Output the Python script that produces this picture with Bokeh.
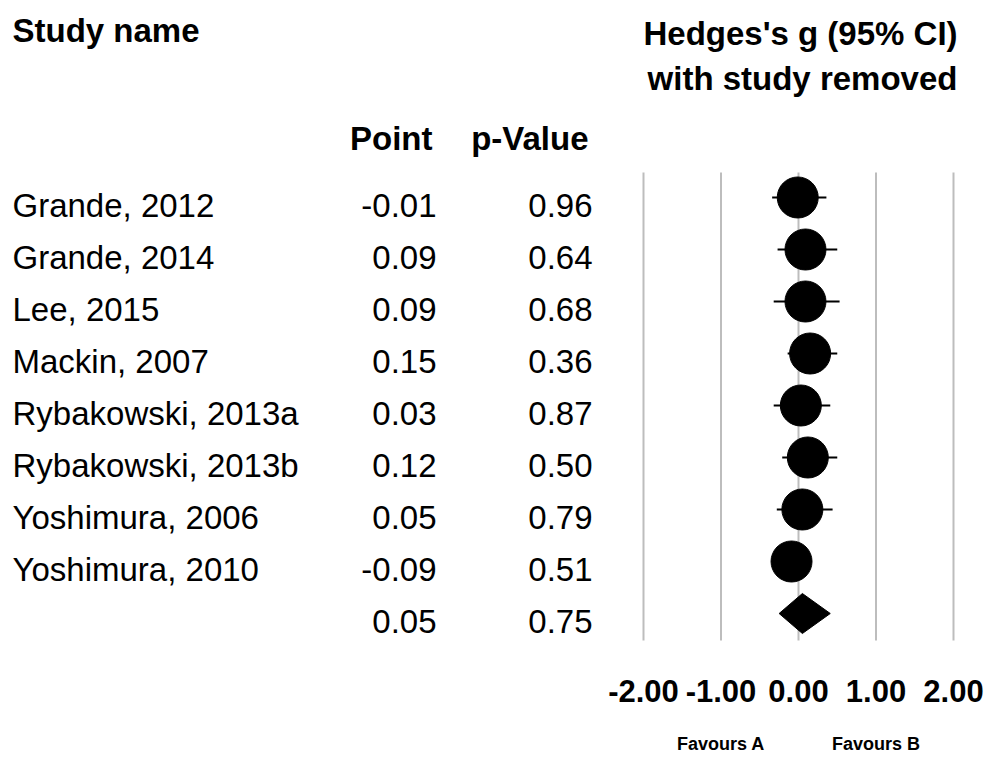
from bokeh.plotting import figure
from bokeh.models import Range1d, ColumnDataSource
from bokeh.core.properties import value
from bokeh.embed import file_html
from bokeh.resources import INLINE

# ---------------- data ----------------
studies = ["Grande, 2012", "Grande, 2014", "Lee, 2015", "Mackin, 2007",
           "Rybakowski, 2013a", "Rybakowski, 2013b", "Yoshimura, 2006", "Yoshimura, 2010"]
point = [-0.01, 0.09, 0.09, 0.15, 0.03, 0.12, 0.05, -0.09]
lower = [-0.34, -0.27, -0.32, -0.14, -0.32, -0.21, -0.28, -0.33]
upper = [0.36, 0.50, 0.53, 0.50, 0.41, 0.50, 0.44, 0.15]
p_value = [0.96, 0.64, 0.68, 0.36, 0.87, 0.50, 0.79, 0.51]
summary_point = 0.05
summary_lower = -0.25
summary_upper = 0.41
summary_p = 0.75
ticks = [-2, -1, 0, 1, 2]
tick_labels = ["-2.00", "-1.00", "0.00", "1.00", "2.00"]
favour_labels = ["Favours A", "Favours B"]
favour_pos = [-1, 1]

# ---------------- layout helpers (picture pixels -> data) ----------------
W, H = 984, 756
X0_PX, UNIT_PX = 643.0, 77.5      # picture x of -2, px per unit
ROW0_PX, ROW_PX = 197.0, 52.0     # picture y of first row, px per row
SHIFT = 0.36                      # baseline correction (em)

def px2x(px):
    return -2 + (px - X0_PX) / UNIT_PX

def py2y(py):
    return (ROW0_PX - py) / ROW_PX

def base(py, size):
    return py2y(py - SHIFT * size)

FONT = value("Liberation Sans")

p = figure(width=W, height=H, output_backend="svg", toolbar_location=None,
           x_range=Range1d(px2x(0), px2x(W)),
           y_range=Range1d(py2y(H), py2y(0)),
           min_border=0)
p.axis.visible = False
p.grid.visible = False
p.outline_line_color = None
p.background_fill_color = "white"
p.border_fill_color = "white"

n = len(studies)
rows = [-i for i in range(n)]
sum_row = -n

# vertical grid lines
p.segment(x0=ticks, x1=ticks, y0=[py2y(172)] * len(ticks), y1=[py2y(640)] * len(ticks),
          line_color="#bdbdbd", line_width=2)

# CI lines
p.segment(x0=lower, x1=upper, y0=rows, y1=rows, line_color="black", line_width=2)

# points
p.scatter(x=point, y=rows, size=41, marker="circle", fill_color="black", line_color="black")

# summary diamond
half_h = 20 / ROW_PX
p.patch(x=[summary_lower, summary_point, summary_upper, summary_point],
        y=[sum_row, sum_row + half_h, sum_row, sum_row - half_h],
        fill_color="black", line_color="black")

# table text
TS = 33
off = (20 - SHIFT * TS) / ROW_PX
src = ColumnDataSource(dict(
    y=[r - off for r in rows],
    name=studies,
    pt=["%.2f" % v for v in point],
    pv=["%.2f" % v for v in p_value],
))
common = dict(text_font=FONT, text_font_size="%dpx" % TS, text_baseline="alphabetic",
              text_color="black")
p.text(x=px2x(12), y="y", text="name", source=src, text_align="left", **common)
p.text(x=px2x(436), y="y", text="pt", source=src, text_align="right", **common)
p.text(x=px2x(592), y="y", text="pv", source=src, text_align="right", **common)

# summary row values
p.text(x=[px2x(436)], y=[sum_row - off], text=["%.2f" % summary_point], text_align="right", **common)
p.text(x=[px2x(592)], y=[sum_row - off], text=["%.2f" % summary_p], text_align="right", **common)

# headers
def header(txt, px, py, align):
    p.text(x=[px2x(px)], y=[base(py, 33)], text=[txt], text_font=FONT, text_font_size="33px",
           text_font_style="bold", text_align=align, text_baseline="alphabetic", text_color="black")

header("Study name", 12, 42, "left")
header("Hedges's g (95% CI)", 800, 45, "center")
header("with study removed", 802, 90, "center")
header("Point", 432, 150, "right")
header("p-Value", 588, 150, "right")

# tick labels
p.text(x=ticks, y=[base(702, 31)] * len(ticks), text=tick_labels, text_font=FONT,
       text_font_size="31px", text_font_style="bold", text_align="center",
       text_baseline="alphabetic", text_color="black")

# favours labels
p.text(x=favour_pos, y=[base(750, 18)] * 2, text=favour_labels, text_font=FONT,
       text_font_size="18px", text_font_style="bold", text_align="center",
       text_baseline="alphabetic", text_color="black")

open("out.html", "w").write(file_html(p, INLINE))
